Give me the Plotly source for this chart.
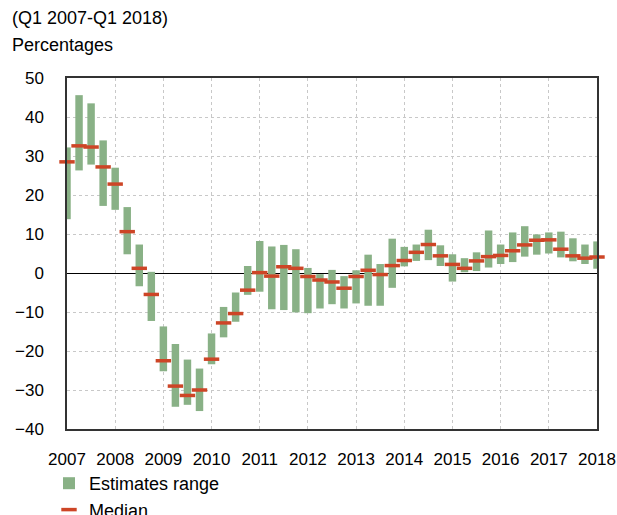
import plotly.graph_objects as go

years = list(range(2007, 2018)) + [2018]
quarter_year = [2007 + i // 4 for i in range(45)]
quarter_num = [i % 4 + 1 for i in range(45)]

range_high = [32.2, 45.6, 43.5, 34.0, 27.0, 16.9, 7.3, 0.3, -13.7, -18.2, -22.2, -24.5,
              -15.5, -8.7, -5.0, 1.8, 8.2, 6.8, 7.2, 6.1, 1.3, -0.3, 0.8, -0.8,
              0.7, 4.7, 2.3, 8.8, 6.7, 7.3, 11.1, 7.1, 4.8, 3.8, 5.3, 10.9,
              7.3, 10.4, 12.0, 9.9, 10.4, 10.6, 8.9, 7.3, 8.1]
range_low = [13.8, 26.3, 27.8, 17.2, 16.2, 4.8, -3.4, -12.3, -25.2, -34.3, -33.8, -35.4,
             -23.4, -16.5, -12.5, -5.6, -4.8, -9.3, -9.5, -10.1, -10.3, -9.1, -8.0, -9.1,
             -7.8, -8.4, -8.4, -3.8, 1.7, 3.1, 3.3, 1.8, -2.2, 0.2, 0.5, 1.4,
             2.3, 2.8, 4.2, 4.7, 5.0, 4.0, 3.0, 2.3, 1.1]
median = [28.5, 32.6, 32.3, 27.2, 22.8, 10.6, 1.2, -5.5, -22.5, -29.0, -31.4, -30.0,
          -22.1, -12.8, -10.4, -4.4, 0.1, -0.8, 1.6, 1.2, -0.9, -1.8, -2.3, -3.9,
          -0.9, 0.7, -0.4, 1.9, 3.2, 5.3, 7.3, 4.4, 2.2, 1.2, 3.1, 4.2,
          4.5, 5.7, 7.2, 8.4, 8.5, 6.1, 4.4, 3.8, 4.1]

y_ticks = [50, 40, 30, 20, 10, 0, -10, -20, -30, -40]

x = [y + (q - 1) / 4 for y, q in zip(quarter_year, quarter_num)]
span = [h - l for h, l in zip(range_high, range_low)]

GREEN = "#89b186"
RED = "#cd4526"
FONT = "Liberation Sans, Arial, sans-serif"

fig = go.Figure()
fig.add_trace(go.Bar(
    x=x, y=span, base=range_low, width=0.155,
    marker=dict(color=GREEN, line=dict(width=0)),
    name="Estimates range",
))
fig.add_trace(go.Scatter(
    x=x, y=median, mode="markers", name="Median",
    marker=dict(symbol="line-ew", size=11, line=dict(width=3.5, color=RED), color=RED),
    cliponaxis=False,
))

fig.update_layout(
    width=617, height=515,
    margin=dict(l=67, r=20, t=78, b=86, autoexpand=False),
    paper_bgcolor="white", plot_bgcolor="white",
    font=dict(family=FONT, size=18, color="#000"),
    showlegend=True,
    legend=dict(x=49 / 617, y=1 - 465 / 515, xref="container", yref="container",
                xanchor="left", yanchor="top",
                orientation="v", itemwidth=30, tracegroupgap=0,
                font=dict(size=18), bgcolor="rgba(0,0,0,0)"),
    barmode="overlay",
    annotations=[
        dict(text="(Q1 2007-Q1 2018)", xref="paper", yref="paper", x=-0.107, y=1.171,
             xanchor="left", yanchor="middle", showarrow=False, font=dict(size=18)),
        dict(text="Percentages", xref="paper", yref="paper", x=-0.107, y=1.094,
             xanchor="left", yanchor="middle", showarrow=False, font=dict(size=18)),
    ],
)
fig.update_xaxes(
    range=[2007, 2018], tickvals=years, ticktext=[str(v) for v in years],
    showgrid=True, gridcolor="#c8c8c8", griddash="3px,3px", gridwidth=1,
    showline=True, mirror=True, linecolor="#333", linewidth=1.5,
    ticks="", ticklabelstandoff=14, zeroline=False, automargin=False,
    tickfont=dict(size=17),
)
fig.update_yaxes(
    range=[-40, 50], tickvals=y_ticks,
    showgrid=True, gridcolor="#c8c8c8", griddash="3px,3px", gridwidth=1,
    showline=True, mirror=True, linecolor="#333", linewidth=1.5,
    zeroline=True, zerolinecolor="#000", zerolinewidth=1.3,
    ticks="", ticklabelstandoff=18, automargin=False,
    tickfont=dict(size=17),
)

fig.write_html("out.html", config={"displayModeBar": False},
               post_script="document.body.style.margin='0';")
